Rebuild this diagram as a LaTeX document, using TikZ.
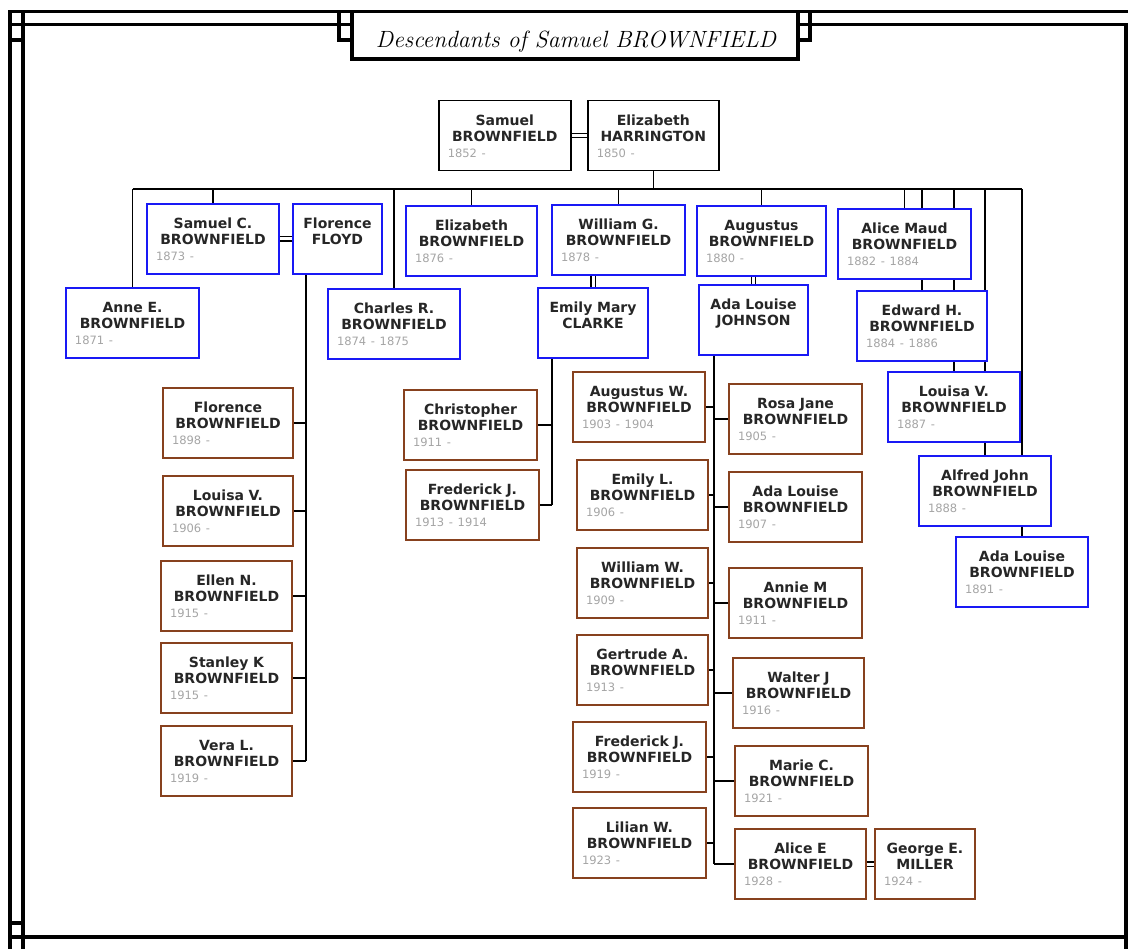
\documentclass[tikz,border=0pt]{standalone}
\usepackage{fontspec}
\newfontfamily\namefont{DejaVu Sans}
\usetikzlibrary{backgrounds}
\definecolor{kinblue}{RGB}{25,25,245}
\definecolor{kinbrown}{RGB}{135,65,30}
\definecolor{yeargray}{RGB}{165,165,165}
\newcommand{\yr}[1]{\makebox[\hsize][l]{\hspace*{9pt}\color{yeargray}\mdseries\fontsize{11.5}{16}\selectfont #1}}
\begin{document}
\begin{tikzpicture}[x=1pt,y=-1pt,
  person/.style={draw,fill=white,anchor=north west,inner xsep=0pt,inner ysep=4pt,
    text height=20.5pt,text depth=41.5pt,align=center,text=black!85,
    font=\namefont\bfseries\fontsize{14}{16}\selectfont},
  topbox/.style={person,line width=1.5pt},
  bluebox/.style={person,draw=kinblue,line width=2pt},
  brownbox/.style={person,draw=kinbrown,line width=2pt},
  link/.style={line width=1.5pt},
  wed/.style={double,double distance=3pt,line width=1.2pt},
  rim/.style={line width=3.5pt}]
\useasboundingbox (0,0) rectangle (1128,949);
%%%% border
\draw[rim] (10,949) -- (10,11.5) -- (1128,11.5);
\draw[rim] (23,949) -- (23,11.5);
\draw[rim] (10,24.5) -- (352,24.5);
\draw[rim] (10,40) -- (23,40);
\draw[rim] (339,11.5) -- (339,40) -- (352,40);
\draw[rim] (352,11.5) rectangle (798,59);
\draw[rim] (810,11.5) -- (810,40) -- (798,40);
\draw[rim] (798,24.5) -- (1126,24.5) -- (1126,949);
\draw[rim] (10,923) -- (23,923);
\draw[rim] (10,937) -- (1128,937);
\node[anchor=base,font=\itshape\fontsize{23.5}{26}\selectfont] (title) at (576,47.5) {Descendants of Samuel BROWNFIELD};
%%%% parents
\node[topbox,text width=132pt] (sam) at (438,100) {Samuel\\BROWNFIELD\\\yr{1852 -}};
\node[topbox,text width=131pt] (elizh) at (587,100) {Elizabeth\\HARRINGTON\\\yr{1850 -}};
%%%% children
\node[bluebox,text width=132pt] (samc) at (146,203) {Samuel C.\\BROWNFIELD\\\yr{1873 -}};
\node[bluebox,text width=89pt] (flo) at (292,203) {Florence\\FLOYD};
\node[bluebox,text width=131pt] (elizb) at (405,205) {Elizabeth\\BROWNFIELD\\\yr{1876 -}};
\node[bluebox,text width=133pt] (willg) at (551,204) {William G.\\BROWNFIELD\\\yr{1878 -}};
\node[bluebox,text width=129pt] (aug) at (696,205) {Augustus\\BROWNFIELD\\\yr{1880 -}};
\node[bluebox,text width=133pt] (alice) at (837,208) {Alice Maud\\BROWNFIELD\\\yr{1882 - 1884}};
\node[bluebox,text width=133pt] (anne) at (65,287) {Anne E.\\BROWNFIELD\\\yr{1871 -}};
\node[bluebox,text width=132pt] (charles) at (327,288) {Charles R.\\BROWNFIELD\\\yr{1874 - 1875}};
\node[bluebox,text width=110pt] (emily) at (537,287) {Emily Mary\\CLARKE};
\node[bluebox,text width=109pt] (adaj) at (698,284) {Ada Louise\\JOHNSON};
\node[bluebox,text width=130pt] (edw) at (856,290) {Edward H.\\BROWNFIELD\\\yr{1884 - 1886}};
\node[bluebox,text width=132pt] (louv) at (887,371) {Louisa V.\\BROWNFIELD\\\yr{1887 -}};
\node[bluebox,text width=132pt] (alf) at (918,455) {Alfred John\\BROWNFIELD\\\yr{1888 -}};
\node[bluebox,text width=132pt] (adab) at (955,536) {Ada Louise\\BROWNFIELD\\\yr{1891 -}};
%%%% grandchildren
\node[brownbox,text width=130pt] (florb) at (162,387) {Florence\\BROWNFIELD\\\yr{1898 -}};
\node[brownbox,text width=130pt] (louisa) at (162,475) {Louisa V.\\BROWNFIELD\\\yr{1906 -}};
\node[brownbox,text width=131pt] (ellen) at (160,560) {Ellen N.\\BROWNFIELD\\\yr{1915 -}};
\node[brownbox,text width=131pt] (stanley) at (160,642) {Stanley K\\BROWNFIELD\\\yr{1915 -}};
\node[brownbox,text width=131pt] (vera) at (160,725) {Vera L.\\BROWNFIELD\\\yr{1919 -}};
\node[brownbox,text width=133pt] (christ) at (403,389) {Christopher\\BROWNFIELD\\\yr{1911 -}};
\node[brownbox,text width=133pt] (fredj) at (405,469) {Frederick J.\\BROWNFIELD\\\yr{1913 - 1914}};
\node[brownbox,text width=132pt] (augw) at (572,371) {Augustus W.\\BROWNFIELD\\\yr{1903 - 1904}};
\node[brownbox,text width=133pt] (rosa) at (728,383) {Rosa Jane\\BROWNFIELD\\\yr{1905 -}};
\node[brownbox,text width=131pt] (emilyl) at (576,459) {Emily L.\\BROWNFIELD\\\yr{1906 -}};
\node[brownbox,text width=133pt] (adal) at (728,471) {Ada Louise\\BROWNFIELD\\\yr{1907 -}};
\node[brownbox,text width=131pt] (willw) at (576,547) {William W.\\BROWNFIELD\\\yr{1909 -}};
\node[brownbox,text width=133pt] (annie) at (728,567) {Annie M\\BROWNFIELD\\\yr{1911 -}};
\node[brownbox,text width=131pt] (gert) at (576,634) {Gertrude A.\\BROWNFIELD\\\yr{1913 -}};
\node[brownbox,text width=131pt] (walter) at (732,657) {Walter J\\BROWNFIELD\\\yr{1916 -}};
\node[brownbox,text width=133pt] (fredn) at (572,721) {Frederick J.\\BROWNFIELD\\\yr{1919 -}};
\node[brownbox,text width=133pt] (marie) at (734,745) {Marie C.\\BROWNFIELD\\\yr{1921 -}};
\node[brownbox,text width=133pt] (lilian) at (572,807) {Lilian W.\\BROWNFIELD\\\yr{1923 -}};
\node[brownbox,text width=131pt] (alicee) at (734,828) {Alice E\\BROWNFIELD\\\yr{1928 -}};
\node[brownbox,text width=100pt] (george) at (874,828) {George E.\\MILLER\\\yr{1924 -}};
%%%% lines
\begin{scope}[on background layer]
\coordinate (bus) at (0,189);
\draw[link] (elizh.south) -- (bus -| elizh.south);
\draw[link] (bus -| anne.north) -- (bus -| adab.north);
\foreach \k in {anne,samc,charles,elizb,willg,aug,alice,edw,louv,alf,adab}
\draw[link] (bus -| \k.north) -- (\k.north);
\draw[wed] (sam.east) -- (elizh.west);
\draw[wed] (samc.east) -- (flo.west);
\draw[wed] (alicee.east) -- (george.west);
\draw[wed] (emily.north) -- (emily.north |- willg.south);
\draw[wed] (adaj.north) -- (adaj.north |- aug.south);
\coordinate (flod) at ([xshift=14pt]flo.south west);
\draw[link] (flod) -- (flod |- vera.east);
\foreach \k in {florb,louisa,ellen,stanley,vera}
\draw[link] (\k.east) -- (\k.east -| flod);
\coordinate (emd) at ([xshift=15pt]emily.south west);
\draw[link] (emd) -- (emd |- fredj.east);
\foreach \k in {christ,fredj}
\draw[link] (\k.east) -- (\k.east -| emd);
\coordinate (adad) at ([xshift=16pt]adaj.south west);
\draw[link] (adad) -- (adad |- alicee.west);
\foreach \k in {augw,emilyl,willw,gert,fredn,lilian}
\draw[link] (\k.east) -- (\k.east -| adad);
\foreach \k in {rosa,adal,annie,walter,marie,alicee}
\draw[link] (\k.west) -- (\k.west -| adad);
\end{scope}
\end{tikzpicture}
\end{document}
